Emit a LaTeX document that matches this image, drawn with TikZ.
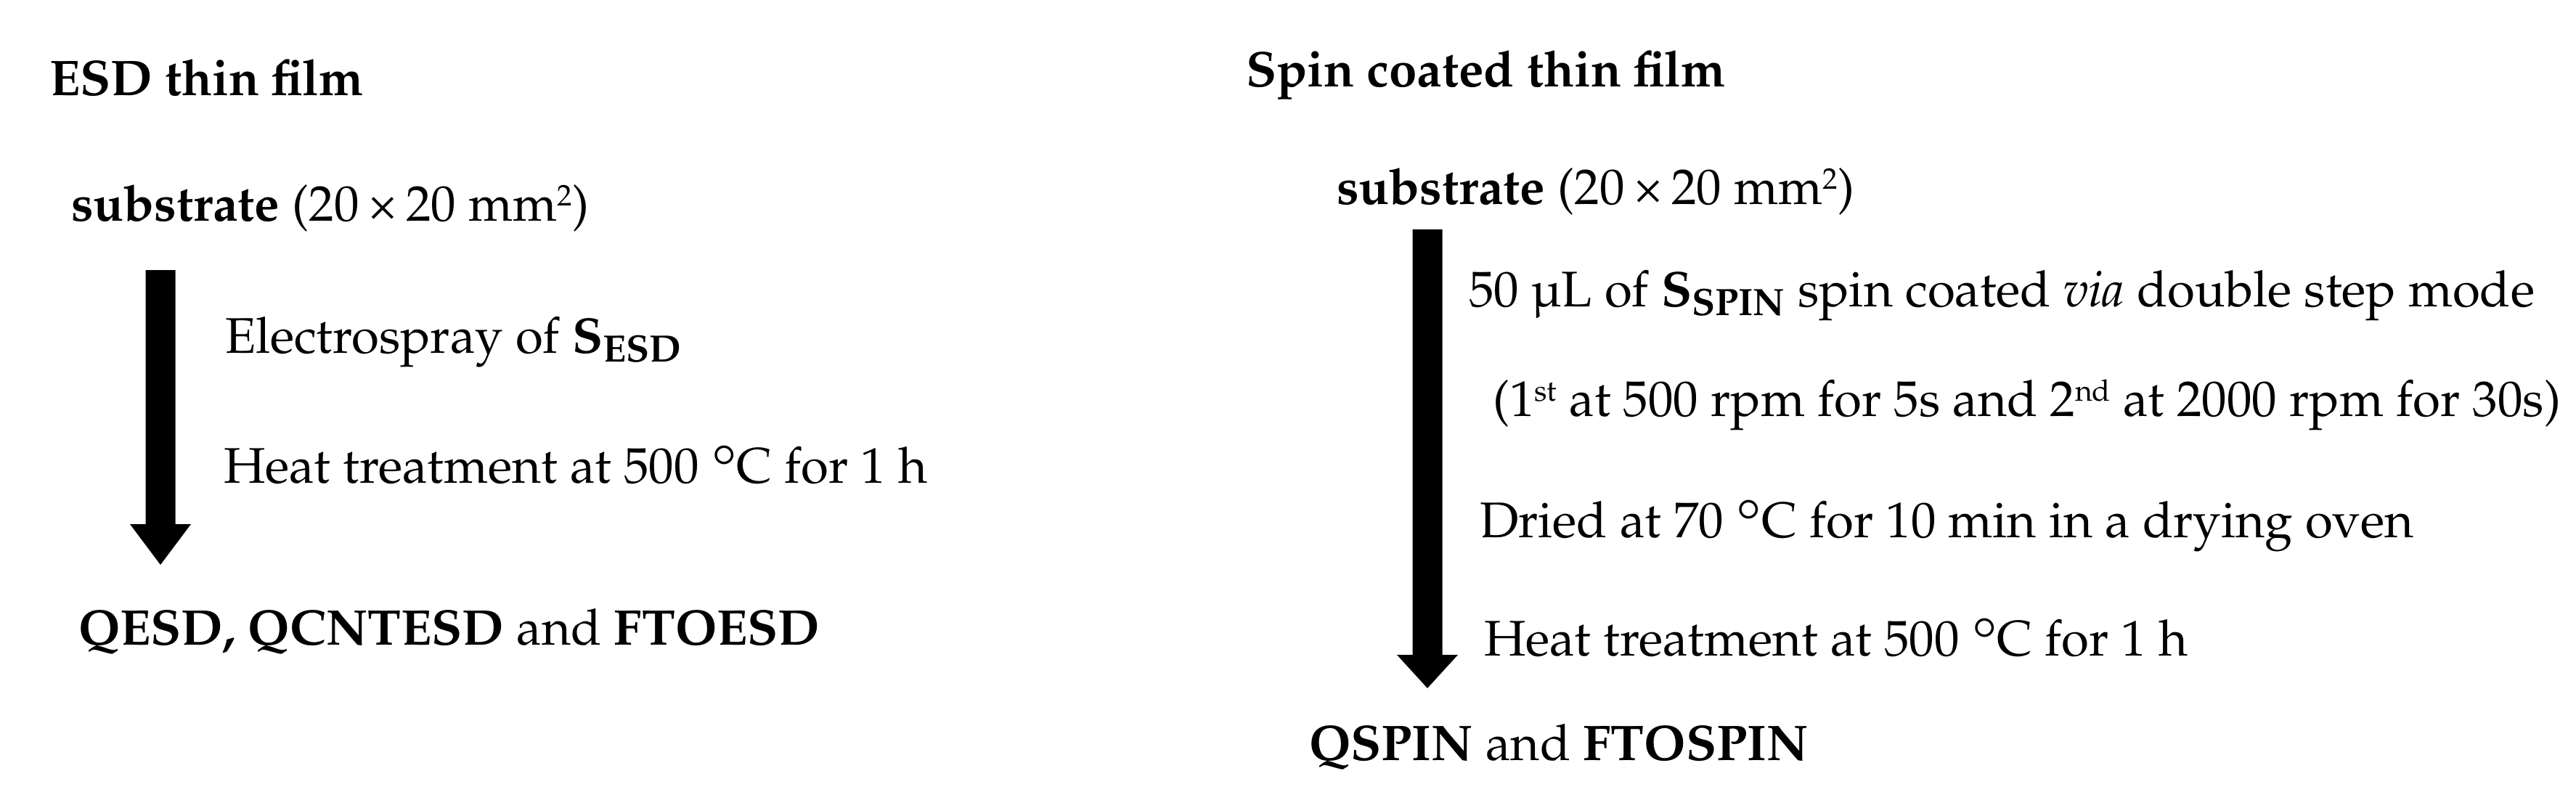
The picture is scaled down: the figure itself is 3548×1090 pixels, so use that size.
\documentclass[tikz,border=0pt]{standalone}
\usepackage[T1]{fontenc}
\usepackage{mathpazo}
\usetikzlibrary{calc}
\tikzset{
  txt/.style={anchor=base west, inner sep=0pt, outer sep=0pt, font=\fontsize{69}{80}\selectfont},
  ttl/.style={txt, font=\fontsize{69}{80}\selectfont\bfseries},
  bigarrow/.style={fill=black, draw=none}
}
\newcommand\supx[1]{\raisebox{0.30em}{\fontsize{41}{41}\selectfont #1}}
\newcommand\degc{\raisebox{-0.12em}{\scalebox{1.25}{\textdegree}}C}
\newcommand\blockarrow[3]{%
  \path[bigarrow] ($(#1)+(-20.5,0)$) -- ($(#2)+(-20.5,0)$) -- ($(#2)+(-42,0)$) -- (#3)
    -- ($(#2)+(42,0)$) -- ($(#2)+(20.5,0)$) -- ($(#1)+(20.5,0)$) -- cycle;}
\begin{document}
\begin{tikzpicture}[x=1pt,y=-1pt]
\useasboundingbox[fill=white] (0,0) rectangle (3548,1090);
% ---- left: ESD
\node[ttl] (t1) at (68,131) {ESD thin film};
\node[txt] (s1) at (98,304) {\textbf{substrate} (20\,\texttimes\,20 mm\supx{2})};
\node[txt] (e1) at (310,486) {Electrospray of \textbf{S}\textsubscript{\textbf{ESD}}};
\node[txt] (h1) at (308,665) {Heat treatment at 500~\degc{} for 1 h};
\node[txt] (p1) at (108,888) {\textbf{QESD, QCNTESD} and \textbf{FTOESD}};
\coordinate (a1top) at (221,372);
\coordinate (a1base) at (221,722);
\coordinate (a1tip) at (221,778);
\blockarrow{a1top}{a1base}{a1tip}
% ---- right: spin coating
\node[ttl] (t2) at (1716,119) {Spin coated thin film};
\node[txt] (s2) at (1841,281) {\textbf{substrate} (20\,\texttimes\,20 mm\supx{2})};
\node[txt] (r1) at (2023,422) {50 \textmu L of \textbf{S}\textsubscript{\textbf{SPIN}} spin coated \textit{via} double step mode};
\node[txt] (r2) at (2056,573) {(1\supx{st} at 500 rpm for 5s and 2\supx{nd} at 2000 rpm for 30s)};
\node[txt] (r3) at (2038,740) {Dried at 70~\degc{} for 10 min in a drying oven};
\node[txt] (r4) at (2044,903) {Heat treatment at 500~\degc{} for 1 h};
\node[txt] (p2) at (1803,1047) {\textbf{QSPIN} and \textbf{FTOSPIN}};
\coordinate (a2top) at (1966,316);
\coordinate (a2base) at (1966,902);
\coordinate (a2tip) at (1966,948);
\blockarrow{a2top}{a2base}{a2tip}
\end{tikzpicture}
\end{document}
